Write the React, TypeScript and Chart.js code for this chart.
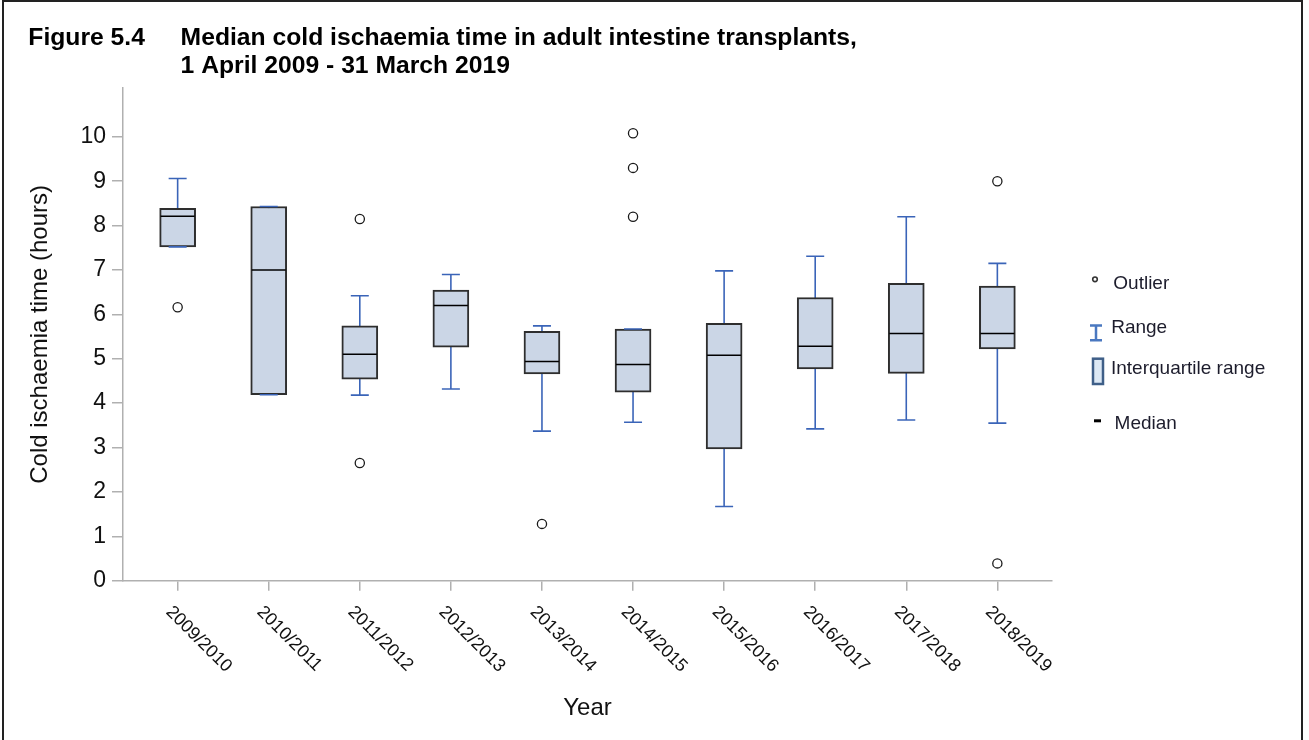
import { useEffect, useRef } from 'react';
import { Chart, registerables } from 'chart.js';

Chart.register(...registerables);

// Financial years on the x axis
const categories = [
  '2009/2010', '2010/2011', '2011/2012', '2012/2013', '2013/2014',
  '2014/2015', '2015/2016', '2016/2017', '2017/2018', '2018/2019',
];

// Box-plot summaries (hours)
const whiskerLow = [7.52, 4.19, 4.18, 4.32, 3.37, 3.57, 1.67, 3.42, 3.62, 3.55];
const q1 = [7.52, 4.19, 4.54, 5.26, 4.66, 4.25, 2.97, 4.77, 4.67, 5.22];
const median = [8.21, 7.0, 5.1, 6.2, 4.94, 4.87, 5.08, 5.28, 5.57, 5.57];
const q3 = [8.39, 8.43, 5.74, 6.55, 5.62, 5.67, 5.8, 6.38, 6.7, 6.64];
const whiskerHigh = [9.06, 8.43, 6.42, 6.9, 5.74, 5.67, 6.98, 7.31, 8.2, 7.15];

// Outliers: category index and value
const outlierCategory = [0, 2, 2, 4, 5, 5, 5, 9, 9];
const outlierValue = [6.16, 8.15, 2.65, 1.28, 10.08, 9.3, 8.2, 9.0, 0.39];

const yTicks = [0, 1, 2, 3, 4, 5, 6, 7, 8, 9, 10];

const FONT = '"Liberation Sans", Arial, Helvetica, sans-serif';
const WHISKER = '#3a64b8';
const BOX_FILL = '#cbd6e6';
const AXIS = '#b0b0b0';

export default function App() {
  const ref = useRef<HTMLCanvasElement>(null);

  useEffect(() => {
    const canvas = ref.current;
    if (!canvas) return;
    const idx = categories.map((_, i) => i);

    const stems = idx.flatMap((i) => [
      { x: i, y: whiskerLow[i] },
      { x: i, y: whiskerHigh[i] },
      { x: i, y: null },
    ]);
    const caps = idx.flatMap((i) => [
      { x: i, y: whiskerLow[i] },
      { x: i, y: whiskerHigh[i] },
    ]);
    const medians = idx.map((i) => ({ x: i, y: median[i] }));
    const boxes = idx.map((i) => ({ x: i, y: [q1[i], q3[i]] }));
    const outliers = outlierCategory.map((c, k) => ({ x: c, y: outlierValue[k] }));

    const decorations = {
      id: 'decorations',
      beforeDraw(chart: any) {
        const ctx = chart.ctx;
        ctx.save();
        ctx.fillStyle = '#fff';
        ctx.fillRect(0, 0, chart.width, chart.height);
        ctx.strokeStyle = '#222';
        ctx.lineWidth = 2;
        ctx.strokeRect(3, 1, 1299, 800);
        ctx.restore();
      },
      afterDraw(chart: any) {
        const ctx = chart.ctx;
        const xs = chart.scales.x;
        const area = chart.chartArea;
        ctx.save();

        // Figure title
        ctx.fillStyle = '#000';
        ctx.textBaseline = 'alphabetic';
        ctx.textAlign = 'left';
        ctx.font = `bold 24.7px ${FONT}`;
        ctx.fillText('Figure 5.4', 28.3, 45);
        ctx.fillText('Median cold ischaemia time in adult intestine transplants,', 180.6, 45);
        ctx.fillText('1 April 2009 - 31 March 2019', 180.6, 73.3);

        // Slanted year labels
        ctx.font = `18px ${FONT}`;
        ctx.fillStyle = '#111';
        ctx.textBaseline = 'middle';
        categories.forEach((label, i) => {
          const px = xs.getPixelForValue(i);
          ctx.save();
          ctx.translate(px - 9, area.bottom + 28.5);
          ctx.rotate(Math.PI / 4);
          ctx.fillText(label, 0, 0);
          ctx.restore();
        });

        // Legend
        const lx = area.right + 44;
        ctx.textBaseline = 'alphabetic';
        ctx.font = `19px ${FONT}`;
        ctx.fillStyle = '#1c1c2c';

        // outlier symbol
        ctx.beginPath();
        ctx.arc(lx - 1, 279.3, 2.3, 0, Math.PI * 2);
        ctx.strokeStyle = '#333';
        ctx.lineWidth = 1.6;
        ctx.stroke();
        ctx.fillText('Outlier', lx + 17.3, 289.3);

        // range symbol
        ctx.strokeStyle = '#4a78c0';
        ctx.lineWidth = 2.5;
        ctx.beginPath();
        ctx.moveTo(lx - 6, 325.5);
        ctx.lineTo(lx + 6, 325.5);
        ctx.moveTo(lx, 325.5);
        ctx.lineTo(lx, 340.2);
        ctx.moveTo(lx - 6, 340.2);
        ctx.lineTo(lx + 6, 340.2);
        ctx.stroke();
        ctx.fillText('Range', lx + 15.2, 332.7);

        // interquartile symbol
        ctx.fillStyle = '#dce8f4';
        ctx.fillRect(lx - 3, 358.7, 10, 25.3);
        ctx.strokeStyle = '#3f5f88';
        ctx.lineWidth = 2.5;
        ctx.strokeRect(lx - 3, 358.7, 10, 25.3);
        ctx.fillStyle = '#1c1c2c';
        ctx.fillText('Interquartile range', lx + 15, 374.3);

        // median symbol
        ctx.fillStyle = '#000';
        ctx.fillRect(lx - 2, 419.3, 7, 3);
        ctx.fillStyle = '#1c1c2c';
        ctx.fillText('Median', lx + 18.6, 429);

        ctx.restore();
      },
    };

    const chart = new Chart(canvas, {
      type: 'bar',
      data: {
        datasets: [
          {
            type: 'scatter',
            label: 'Outlier',
            data: outliers,
            pointStyle: 'circle',
            pointRadius: 4.6,
            pointBackgroundColor: '#fff',
            pointBorderColor: '#1a1a1a',
            pointBorderWidth: 1.3,
            order: 0,
          },
          {
            type: 'scatter',
            label: 'Median',
            data: medians,
            pointStyle: 'line',
            pointRadius: 17,
            pointBorderColor: '#000',
            pointBorderWidth: 1.5,
            order: 1,
          },
          {
            type: 'scatter',
            label: 'Range',
            data: caps,
            pointStyle: 'line',
            pointRadius: 9,
            pointBorderColor: WHISKER,
            pointBorderWidth: 1.6,
            order: 2,
          },
          {
            type: 'bar',
            label: 'Interquartile range',
            data: boxes,
            backgroundColor: BOX_FILL,
            borderColor: '#2e2e2e',
            borderWidth: 2,
            borderSkipped: false,
            barThickness: 36,
            grouped: false,
            order: 3,
          },
          {
            type: 'line',
            label: 'Range',
            data: stems,
            borderColor: WHISKER,
            borderWidth: 1.6,
            pointRadius: 0,
            spanGaps: false,
            fill: false,
            order: 4,
          },
        ],
      } as any,
      options: {
        responsive: false,
        animation: false,
        events: [],
        layout: { padding: { top: 88, right: 257, bottom: 0, left: 0 } },
        plugins: {
          legend: { display: false },
          tooltip: { enabled: false },
          title: { display: false },
        },
        scales: {
          x: {
            type: 'linear',
            min: -0.6,
            max: 9.6,
            offset: false,
            afterBuildTicks: (s: any) => {
              s.ticks = categories.map((_, i) => ({ value: i }));
            },
            afterFit: (s: any) => {
              s.height = 159.3;
            },
            grid: {
              display: true,
              drawOnChartArea: false,
              drawTicks: true,
              tickLength: 10,
              color: AXIS,
              lineWidth: 1.5,
              offset: false,
            },
            border: { display: true, color: AXIS, width: 1.5 },
            ticks: { display: false },
            title: {
              display: true,
              text: 'Year',
              color: '#111',
              font: { family: FONT, size: 24 },
              padding: { top: 0, bottom: 17 },
            },
          },
          y: {
            type: 'linear',
            min: 0,
            max: 11.1,
            afterBuildTicks: (s: any) => {
              s.ticks = yTicks.map((v) => ({ value: v }));
            },
            afterFit: (s: any) => {
              s.width = 123;
            },
            grid: {
              display: true,
              drawOnChartArea: false,
              drawTicks: true,
              tickLength: 11,
              color: AXIS,
              lineWidth: 1.5,
            },
            border: { display: true, color: AXIS, width: 1.5 },
            ticks: {
              color: '#111',
              font: { family: FONT, size: 23 },
              padding: 6,
              callback: (v: any) => String(v),
            },
            title: {
              display: true,
              text: 'Cold ischaemia time (hours)',
              color: '#111',
              font: { family: FONT, size: 24 },
              padding: { top: 26, bottom: 0 },
            },
          },
        },
      } as any,
      plugins: [decorations],
    });

    return () => chart.destroy();
  }, []);

  return (
    <div style={{ position: 'absolute', left: 0, top: 0, width: 1309, height: 740, background: '#fff' }}>
      <canvas ref={ref} width={1309} height={740} style={{ display: 'block' }} />
    </div>
  );
}
